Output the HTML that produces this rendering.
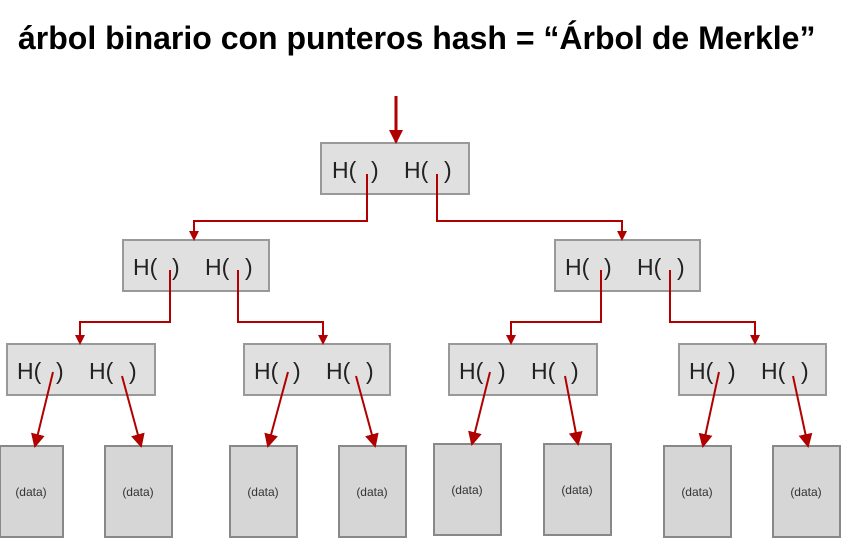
<!DOCTYPE html>
<html><head><style>
body{margin:0;width:851px;height:549px;background:#fff;overflow:hidden;position:relative;font-family:"Liberation Sans",sans-serif}
.t{position:absolute;left:18px;top:20px;font-size:32px;font-weight:bold;color:#000;white-space:nowrap}
</style></head><body>
<div class="t">árbol binario con punteros hash = “Árbol de Merkle”</div>
<svg width="851" height="549" style="position:absolute;left:0;top:0">
<defs><marker id="a" markerWidth="10" markerHeight="10" refX="8" refY="5" orient="auto" markerUnits="userSpaceOnUse"><path d="M0,0 L10,5 L0,10z" fill="#b00000"/></marker>
<marker id="b" markerWidth="14" markerHeight="14" refX="12" refY="7" orient="auto" markerUnits="userSpaceOnUse"><path d="M0,0 L14,7 L0,14z" fill="#b00000"/></marker>
<g id="h" font-size="23" fill="#222" font-family="Liberation Sans,sans-serif"><text x="0" y="0">H(</text><text x="39" y="0">)</text><text x="72" y="0">H(</text><text x="112" y="0">)</text></g></defs>
<g fill="#e0e0e0" stroke="#999" stroke-width="2">
<rect x="321" y="143" width="148" height="51"/>
<rect x="123" y="240" width="146" height="51"/>
<rect x="555" y="240" width="145" height="51"/>
<rect x="7" y="344" width="148" height="51"/>
<rect x="244" y="344" width="146" height="51"/>
<rect x="449" y="344" width="148" height="51"/>
<rect x="679" y="344" width="147" height="51"/>
</g>
<g fill="#d6d6d6" stroke="#888" stroke-width="2">
<rect x="0" y="446" width="63" height="91"/>
<rect x="105" y="446" width="67" height="91"/>
<rect x="230" y="446" width="67" height="91"/>
<rect x="339" y="446" width="67" height="91"/>
<rect x="434" y="444" width="67" height="91"/>
<rect x="544" y="444" width="67" height="91"/>
<rect x="664" y="446" width="67" height="91"/>
<rect x="773" y="446" width="67" height="91"/>
</g>
<use href="#h" x="332" y="178"/>
<use href="#h" x="133" y="275"/>
<use href="#h" x="565" y="275"/>
<use href="#h" x="17" y="379"/>
<use href="#h" x="254" y="379"/>
<use href="#h" x="459" y="379"/>
<use href="#h" x="689" y="379"/>
<g font-size="12" fill="#333" text-anchor="middle" font-family="Liberation Sans,sans-serif">
<text x="31" y="496">(data)</text><text x="138" y="496">(data)</text>
<text x="263" y="496">(data)</text><text x="372" y="496">(data)</text>
<text x="467" y="494">(data)</text><text x="577" y="494">(data)</text>
<text x="697" y="496">(data)</text><text x="806" y="496">(data)</text>
</g>
<g stroke="#b00000" stroke-width="2" fill="none">
<path d="M396,96 V142" stroke-width="3" marker-end="url(#b)"/>
<path d="M367,174 V221 H194 V239" marker-end="url(#a)"/>
<path d="M437,174 V221 H622 V239" marker-end="url(#a)"/>
<path d="M170,270 V322 H80 V343" marker-end="url(#a)"/>
<path d="M238,270 V322 H323 V343" marker-end="url(#a)"/>
<path d="M601,270 V322 H511 V343" marker-end="url(#a)"/>
<path d="M670,270 V322 H755 V343" marker-end="url(#a)"/>
<path d="M53,372 L35,446" marker-end="url(#b)"/>
<path d="M122,376 L141,446" marker-end="url(#b)"/>
<path d="M288,372 L268,446" marker-end="url(#b)"/>
<path d="M356,376 L375,446" marker-end="url(#b)"/>
<path d="M490,372 L472,444" marker-end="url(#b)"/>
<path d="M565,376 L578,444" marker-end="url(#b)"/>
<path d="M719,372 L703,446" marker-end="url(#b)"/>
<path d="M793,376 L808,446" marker-end="url(#b)"/>
</g>
</svg>
</body></html>
